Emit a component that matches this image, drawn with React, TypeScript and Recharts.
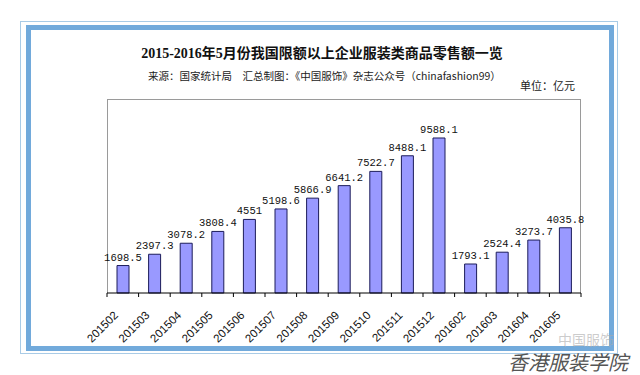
import React from "react";
import { BarChart, Bar, XAxis, YAxis, LabelList } from "recharts";

const months = [
  "201502", "201503", "201504", "201505", "201506", "201507", "201508", "201509",
  "201510", "201511", "201512", "201602", "201603", "201604", "201605",
];
const sales = [
  1698.5, 2397.3, 3078.2, 3808.4, 4551, 5198.6, 5866.9, 6641.2,
  7522.7, 8488.1, 9588.1, 1793.1, 2524.4, 3273.7, 4035.8,
];

const title = "2015-2016年5月份我国限额以上企业服装类商品零售额一览";
const subtitle = "来源：国家统计局　汇总制图：《中国服饰》杂志公众号（chinafashion99）";
const unit = "单位：亿元";

const data = months.map((m, i) => ({ month: m, value: sales[i] }));

// plot box in page pixels
const PLOT = { left: 107, top: 99, right: 581, bottom: 293 };
const STEP = (PLOT.right - PLOT.left) / months.length;

function MonthTick(props: any) {
  const { x, y, payload, index } = props;
  const last = index === months.length - 1;
  const ax = x - 4;
  const ay = y + 23;
  return (
    <g>
      <line x1={x - STEP / 2} y1={y} x2={x - STEP / 2} y2={y + 4} stroke="#000" />
      {last && <line x1={x + STEP / 2} y1={y} x2={x + STEP / 2} y2={y + 4} stroke="#000" />}
      <text
        x={ax}
        y={ay}
        transform={`rotate(-45 ${ax} ${ay})`}
        textAnchor="end"
        fontSize={11.5}
        fontFamily="Liberation Sans, Arial, sans-serif"
        fill="#111"
      >
        {payload.value}
      </text>
    </g>
  );
}

export default function App() {
  return (
    <div
      style={{
        position: "absolute",
        top: 0,
        left: 0,
        width: 640,
        height: 375,
        background: "#fff",
        overflow: "hidden",
        fontFamily: "'Liberation Serif', 'Noto Sans CJK SC', serif",
      }}
    >
      {/* picture frame */}
      <div style={{ position: "absolute", left: 20, top: 21, width: 598, height: 333, border: "1px solid #a9cbe6", boxSizing: "border-box" }} />
      <div style={{ position: "absolute", left: 26, top: 25, width: 588, height: 326, border: "5px solid #72aadb", boxSizing: "border-box" }} />

      <div style={{ position: "absolute", left: 0, top: 42, width: 644, textAlign: "center", fontSize: 14, fontWeight: "bold", color: "#111", whiteSpace: "nowrap" }}>
        {title}
      </div>
      <div style={{ position: "absolute", left: 148, top: 68, fontSize: 10.5, color: "#222", whiteSpace: "nowrap", fontFamily: "'Noto Sans CJK SC', sans-serif" }}>
        {subtitle}
      </div>
      <div style={{ position: "absolute", left: 520, top: 77, fontSize: 11, color: "#222", whiteSpace: "nowrap", fontFamily: "'Noto Sans CJK SC', sans-serif" }}>
        {unit}
      </div>

      {/* plot area border */}
      <div
        style={{
          position: "absolute",
          left: PLOT.left,
          top: PLOT.top,
          width: PLOT.right - PLOT.left,
          height: PLOT.bottom - PLOT.top,
          borderTop: "1px solid #9a9a9a",
          borderLeft: "1px solid #9a9a9a",
          borderRight: "1px solid #9a9a9a",
          boxSizing: "border-box",
        }}
      />

      <div style={{ position: "absolute", left: 0, top: 0 }}>
        <BarChart
          width={640}
          height={375}
          data={data}
          margin={{ top: PLOT.top, left: PLOT.left, right: 640 - PLOT.right, bottom: 375 - PLOT.bottom - 40 }}
        >
          <YAxis hide domain={[0, 12000]} />
          <XAxis
            dataKey="month"
            height={40}
            interval={0}
            tickSize={0}
            tickMargin={0}
            axisLine={{ stroke: "#000" }}
            tickLine={false}
            tick={<MonthTick />}
          />
          <Bar dataKey="value" barSize={12} fill="#9999ff" stroke="#1c1c5a" strokeWidth={1} isAnimationActive={false}>
            <LabelList
              dataKey="value"
              position="top"
              offset={5}
              fill="#111"
              fontSize={10.5}
              fontFamily="'Liberation Mono', monospace"
            />
          </Bar>
        </BarChart>
      </div>

      {/* watermark */}
      <div style={{ position: "absolute", left: 558, top: 332, fontSize: 14, lineHeight: 1, color: "rgba(170,170,170,0.6)", whiteSpace: "nowrap", fontFamily: "'Noto Sans CJK SC', sans-serif" }}>
        中国服饰
      </div>
      <div style={{ position: "absolute", left: 508, top: 352, fontSize: 20, lineHeight: 1, color: "#555", whiteSpace: "nowrap", fontStyle: "italic", fontFamily: "'Noto Sans CJK SC', sans-serif" }}>
        香港服装学院
      </div>
    </div>
  );
}
